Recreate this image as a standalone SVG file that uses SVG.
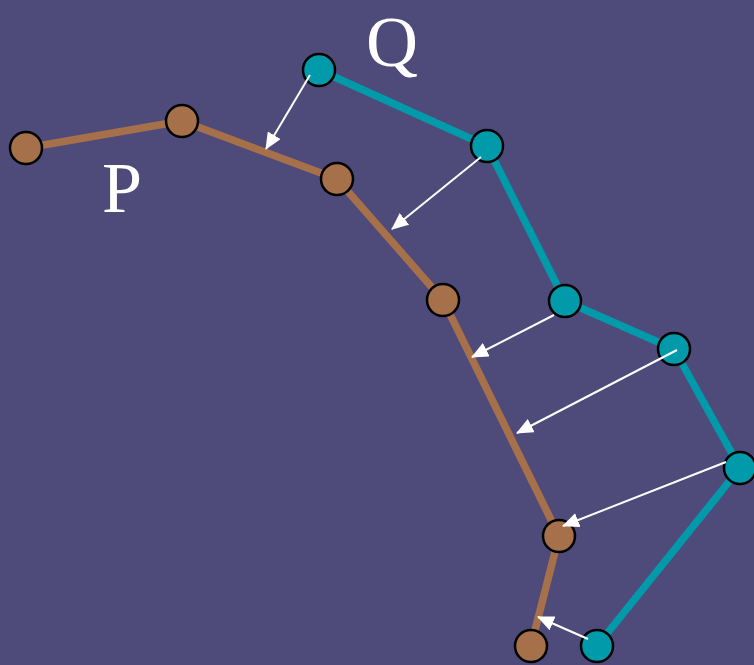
<svg xmlns="http://www.w3.org/2000/svg" width="754" height="665" viewBox="0 0 754 665">
<defs>
<style>
.p{fill:#a5704a;stroke:#000;stroke-width:2.5}
.q{fill:#009aaa;stroke:#000;stroke-width:2.5}
.pl{fill:none;stroke:#a5704a;stroke-width:7.5;stroke-linejoin:round}
.ql{fill:none;stroke:#009aaa;stroke-width:7.5;stroke-linejoin:round}
.ar{stroke:#fff;stroke-width:2;marker-end:url(#ah)}
.lb{font-family:"Liberation Serif","Times New Roman",serif;font-size:72px;fill:#fff;text-anchor:middle}
</style>
<marker id="ah" viewBox="0 0 17 15" refX="16" refY="7.5" markerWidth="17" markerHeight="15" markerUnits="userSpaceOnUse" orient="auto">
<path d="M0,0L17,7.5L0,15z" fill="#fff"/>
</marker>
</defs>
<rect width="754" height="665" fill="#4e4a7a"/>
<g id="connectors">
<polyline class="pl" points="26,148 182,121 337,179 443,300 559,536 531,646"/>
<polyline class="ql" points="319,70 487,146 565,301 674,349 740,468 597,646"/>
</g>
<g id="P">
<circle id="p1" class="p" cx="26" cy="148" r="16"/>
<circle id="p2" class="p" cx="182" cy="121" r="16"/>
<circle id="p3" class="p" cx="337" cy="179" r="16"/>
<circle id="p4" class="p" cx="443" cy="300" r="16"/>
<circle id="p5" class="p" cx="559" cy="536" r="16"/>
<circle id="p6" class="p" cx="531" cy="646" r="16"/>
</g>
<g id="Q">
<circle id="q1" class="q" cx="319" cy="70" r="16"/>
<circle id="q2" class="q" cx="487" cy="146" r="16"/>
<circle id="q3" class="q" cx="565" cy="301" r="16"/>
<circle id="q4" class="q" cx="674" cy="349" r="16"/>
<circle id="q5" class="q" cx="740" cy="468" r="16"/>
<circle id="q6" class="q" cx="597" cy="646" r="16"/>
</g>
<g id="arrows">
<line class="ar" x1="310" y1="75" x2="266" y2="149"/>
<line class="ar" x1="481" y1="157" x2="392" y2="229"/>
<line class="ar" x1="554" y1="315" x2="472" y2="357"/>
<line class="ar" x1="677" y1="350" x2="517" y2="433"/>
<line class="ar" x1="726" y1="462" x2="563" y2="526"/>
<line class="ar" x1="588" y1="639" x2="538" y2="617"/>
</g>
<g id="labels">
<text class="lb" x="122" y="212">P</text>
<text class="lb" x="392" y="66">Q</text>
</g>
</svg>
